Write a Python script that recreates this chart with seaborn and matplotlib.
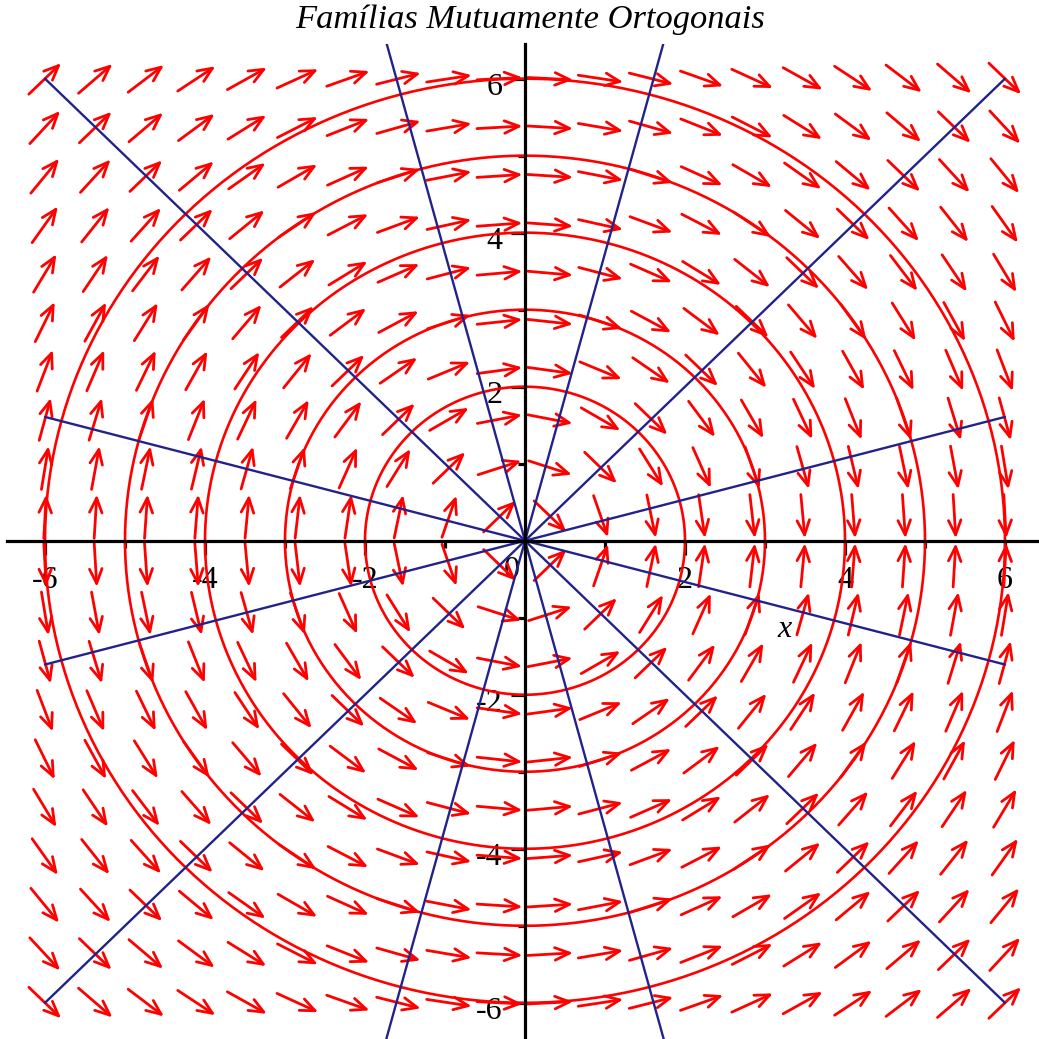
import numpy as np
import pandas as pd
import matplotlib
matplotlib.use("Agg")
import matplotlib.pyplot as plt
import seaborn as sns
from matplotlib.patches import FancyArrowPatch
from matplotlib.transforms import ScaledTranslation

# Family of circles x^2 + y^2 = r^2 (solutions of dy/dx = -x/y)
circle_radii = [2, 3, 4, 5, 6]
# Orthogonal family: straight lines through the origin, angles in degrees
line_angles = [15, 45, 75, 105, 135, 165]
# Direction-field grid and arrow size (data units)
field_min, field_max, field_n = -6.0, 6.0, 20
arrow_len = 0.57

x_ticks = [-6, -4, -2, 0, 2, 4, 6]
x_tick_labels = ["-6", "-4", "-2", "0", "2", "4", "6"]
y_ticks = [-6, -4, -2, 2, 4, 6]
y_tick_labels = ["-6", "-4", "-2", "2", "4", "6"]
minor_ticks = [-5, -3, -1, 1, 3, 5]
title_text = "Famílias Mutuamente Ortogonais"
x_axis_label = "x"

sns.set_style("white")
plt.rcParams["font.family"] = ["Liberation Serif", "DejaVu Serif"]
plt.rcParams["axes.unicode_minus"] = False
plt.rcParams["text.color"] = "black"
plt.rcParams["xtick.color"] = "black"
plt.rcParams["ytick.color"] = "black"
plt.rcParams["xtick.labelcolor"] = "black"
plt.rcParams["ytick.labelcolor"] = "black"

W = 1039
fig = plt.figure(figsize=(W / 100, W / 100), dpi=100)
ax = fig.add_axes([7 / W, 0, 1032 / W, 995 / W])
ax.set_xlim(-6.475, 6.425)
ax.set_ylim(-6.47, 6.45)

red = "#ff0000"
navy = "#22228a"

# circles
theta = np.linspace(0, 2 * np.pi, 721)
circ = pd.concat(
    [pd.DataFrame({"x": r * np.cos(theta), "y": r * np.sin(theta), "r": r}) for r in circle_radii],
    ignore_index=True,
)
sns.lineplot(data=circ, x="x", y="y", units="r", estimator=None, sort=False,
             color=red, lw=1.9, ax=ax, legend=False, zorder=2)

# direction field arrows for dy/dx = -x/y
grid = np.linspace(field_min, field_max, field_n)
for gx in grid:
    for gy in grid:
        f = -gx / gy
        n = np.hypot(1.0, f)
        ux, uy = 1.0 / n, f / n
        a = FancyArrowPatch((gx - arrow_len / 2 * ux, gy - arrow_len / 2 * uy),
                            (gx + arrow_len / 2 * ux, gy + arrow_len / 2 * uy),
                            arrowstyle="->,head_length=1.05,head_width=0.45",
                            mutation_scale=10, shrinkA=0, shrinkB=0,
                            color=red, lw=2.0, zorder=2.5)
        ax.add_patch(a)

# orthogonal lines
xs = np.array([-6.0, 6.0])
lines = pd.concat(
    [pd.DataFrame({"x": xs, "y": np.tan(np.radians(a)) * xs, "a": a}) for a in line_angles],
    ignore_index=True,
)
sns.lineplot(data=lines, x="x", y="y", units="a", estimator=None, sort=False,
             color=navy, lw=1.7, ax=ax, legend=False, zorder=3)

# axes through the origin
for side in ("top", "right"):
    ax.spines[side].set_visible(False)
for side in ("left", "bottom"):
    ax.spines[side].set_position(("data", 0))
    ax.spines[side].set_linewidth(2.3)
    ax.spines[side].set_color("black")
    ax.spines[side].set_zorder(10)

ax.set_xticks(x_ticks)
ax.set_xticklabels(x_tick_labels)
ax.set_yticks(y_ticks)
ax.set_yticklabels(y_tick_labels)
ax.set_xticks(minor_ticks, minor=True)
ax.set_yticks(minor_ticks, minor=True)
ax.tick_params(which="both", bottom=True, left=True, top=False, right=False)
ax.tick_params(which="major", direction="out", length=10, width=2.3, labelsize=23,
               color="black", labelcolor="black")
ax.tick_params(which="minor", direction="out", length=5, width=2.3, color="black")
ax.tick_params(axis="x", which="major", pad=8)
ax.tick_params(axis="y", which="major", pad=6)
ax.set_xlabel("")
ax.set_ylabel("")

for lab in ax.get_xticklabels():
    if lab.get_text() == "0":
        lab.set_transform(lab.get_transform() + ScaledTranslation(-13 / 100, 10 / 100, fig.dpi_scale_trans))
for lab in ax.get_yticklabels():
    lab.set_transform(lab.get_transform() + ScaledTranslation(0, -5 / 100, fig.dpi_scale_trans))

ax.text(3.25, -1.156, x_axis_label, fontsize=23, style="italic", ha="center", va="center",
        color="black")
fig.text(530 / W, 1 - 20 / W, title_text, fontsize=24.8, style="italic", ha="center",
         va="center", color="black")

fig.savefig("out.png", dpi=100)
